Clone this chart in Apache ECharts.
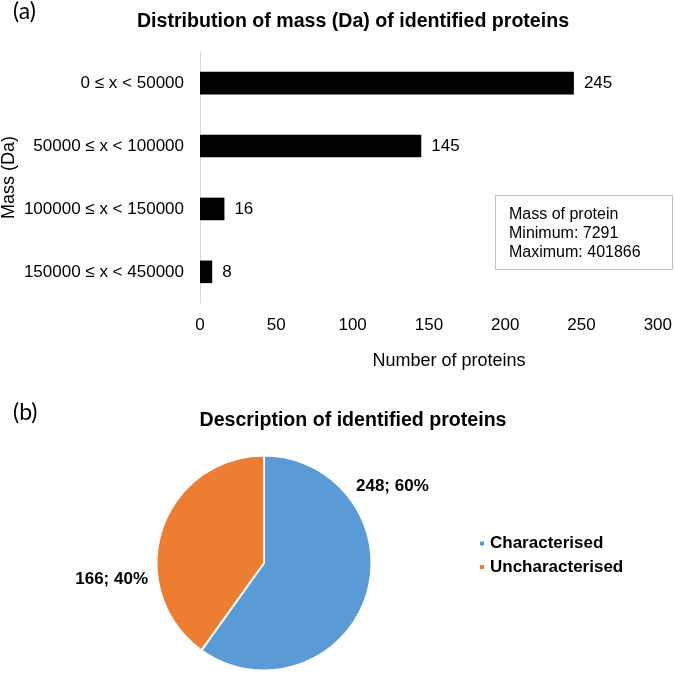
<!DOCTYPE html>
<html>
<head>
<meta charset="utf-8">
<script src="https://cdn.jsdelivr.net/npm/echarts@6/dist/echarts.min.js"></script>
<style>
html,body{margin:0;padding:0;background:#fff;}
#chart{width:675px;height:673px;}
</style>
</head>
<body>
<div id="chart"></div>
<script>
var massCategories = ['0 ≤ x < 50000', '50000 ≤ x < 100000', '100000 ≤ x < 150000', '150000 ≤ x < 450000'];
var massCounts = [245, 145, 16, 8];
var xTicks = [0, 50, 100, 150, 200, 250, 300];
var descNames = ['Characterised', 'Uncharacterised'];
var descValues = [248, 166];
var descColors = ['#5B9BD5', '#ED7D31'];
var boxLines = ['Mass of protein', 'Minimum: 7291', 'Maximum: 401866'];

var FONT = '"Liberation Sans", Arial, sans-serif';
var chart = echarts.init(document.getElementById('chart'), null, {renderer: 'canvas'});
var total = descValues.reduce(function(a, b){return a + b;}, 0);
var labelPos = [[356, 486, 'left'], [148, 579, 'right']];

chart.setOption({
  backgroundColor: '#ffffff',
  animation: false,
  textStyle: {fontFamily: FONT},
  grid: {left: 200, right: 15, top: 51.7, height: 251.6, containLabel: false},
  xAxis: {
    type: 'value', min: xTicks[0], max: xTicks[xTicks.length - 1], interval: xTicks[1] - xTicks[0],
    axisLine: {show: false}, axisTick: {show: false}, splitLine: {show: false},
    axisLabel: {color: '#000', fontSize: 17, margin: 14, fontFamily: FONT}
  },
  yAxis: {
    type: 'category', data: massCategories, inverse: true,
    axisLine: {show: true, lineStyle: {color: '#d9d9d9', width: 1}},
    axisTick: {show: false}, splitLine: {show: false},
    axisLabel: {color: '#000', fontSize: 17, margin: 16, fontFamily: FONT}
  },
  legend: {
    orient: 'vertical', left: 473, top: 530, icon: 'rect', itemWidth: 6, itemHeight: 6, itemGap: 6.5,
    data: descNames,
    textStyle: {fontSize: 17, fontWeight: 'bold', color: '#000', fontFamily: FONT, lineHeight: 17}
  },
  series: [
    {
      type: 'bar', data: massCounts, barWidth: 22.6,
      itemStyle: {color: '#000'},
      label: {show: true, position: 'right', distance: 10, color: '#000', fontSize: 17, fontFamily: FONT}
    },
    {
      type: 'pie', center: [264, 563], radius: 107.5, startAngle: 90, clockwise: true,
      data: descNames.map(function(n, i){ return {name: n, value: descValues[i], itemStyle: {color: descColors[i]}}; }),
      itemStyle: {borderColor: '#fff', borderWidth: 2},
      label: {
        show: true, position: 'outside', fontSize: 17, fontWeight: 'bold', color: '#000', fontFamily: FONT,
        formatter: function(p){ return p.value + '; ' + Math.round(p.value / total * 100) + '%'; }
      },
      labelLine: {show: false},
      labelLayout: function(p){ var l = labelPos[p.dataIndex]; return {x: l[0], y: l[1], align: l[2], verticalAlign: 'middle'}; }
    }
  ],
  graphic: [
    {type: 'text', x: 13, y: 12, style: {text: '(a)', fontSize: 23, fontFamily: 'Lato, "Open Sans", sans-serif', fill: '#000', textVerticalAlign: 'middle'}},
    {type: 'text', x: 13, y: 413, style: {text: '(b)', fontSize: 23, fontFamily: 'Lato, "Open Sans", sans-serif', fill: '#000', textVerticalAlign: 'middle'}},
    {type: 'text', x: 353, y: 22, style: {text: 'Distribution of mass (Da) of identified proteins', fontSize: 19.6, fontWeight: 'bold', fontFamily: FONT, fill: '#000', textAlign: 'center', textVerticalAlign: 'middle'}},
    {type: 'text', x: 353, y: 421, style: {text: 'Description of identified proteins', fontSize: 19.6, fontWeight: 'bold', fontFamily: FONT, fill: '#000', textAlign: 'center', textVerticalAlign: 'middle'}},
    {type: 'text', x: 449, y: 361, style: {text: 'Number of proteins', fontSize: 18, fontFamily: FONT, fill: '#000', textAlign: 'center', textVerticalAlign: 'middle'}},
    {type: 'text', x: 9, y: 177.5, rotation: Math.PI / 2, style: {text: 'Mass (Da)', fontSize: 18, fontFamily: FONT, fill: '#000', textAlign: 'center', textVerticalAlign: 'middle'}},
    {type: 'rect', shape: {x: 495.5, y: 195.5, width: 177, height: 74}, style: {fill: '#fff', stroke: '#bfbfbf', lineWidth: 1}},
    {type: 'text', x: 509, y: 214.5, style: {text: boxLines[0], fontSize: 16, fontFamily: FONT, fill: '#000', textVerticalAlign: 'middle'}},
    {type: 'text', x: 509, y: 233.5, style: {text: boxLines[1], fontSize: 16, fontFamily: FONT, fill: '#000', textVerticalAlign: 'middle'}},
    {type: 'text', x: 509, y: 253, style: {text: boxLines[2], fontSize: 16, fontFamily: FONT, fill: '#000', textVerticalAlign: 'middle'}}
  ]
});
</script>
</body>
</html>
